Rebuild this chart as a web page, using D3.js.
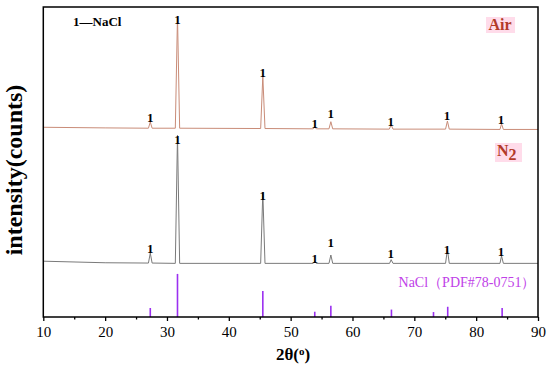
<!DOCTYPE html>
<html>
<head>
<meta charset="utf-8">
<script src="https://cdn.jsdelivr.net/npm/d3@7"></script>
<style>
  body { margin: 0; background: #fff; }
  svg text { font-family: "Liberation Serif", "Times New Roman", "DejaVu Serif", serif; }
</style>
</head>
<body>
<svg id="drawing_region"></svg>
<script>
// XRD patterns as [2theta, counts] points
const airPattern = [
    [10, 612], [20, 610], [27.0, 609], [27.3, 629], [27.6, 609],
    [31.35, 609], [31.7, 971], [32.05, 609],
    [45.15, 608], [45.5, 777], [45.85, 608],
    [53.65, 607], [53.9, 613], [54.15, 607],
    [56.2, 607], [56.5, 630], [56.8, 607],
    [65.95, 606], [66.25, 620], [66.55, 606],
    [75.05, 606], [75.35, 632], [75.65, 606],
    [83.85, 605], [84.1, 623], [84.4, 605],
    [90, 605]
];
const n2Pattern = [
    [10, 180], [20, 175], [27.0, 174], [27.3, 206], [27.6, 174],
    [31.35, 173], [31.7, 586], [32.05, 173],
    [45.15, 173], [45.5, 403], [45.85, 173],
    [53.65, 173], [53.9, 180], [54.15, 173],
    [56.2, 173], [56.5, 200], [56.8, 173],
    [66.0, 173], [66.25, 185], [66.55, 173],
    [75.05, 173], [75.35, 218], [75.65, 173],
    [83.85, 173], [84.1, 197], [84.4, 173],
    [90, 173]
];

// "1" markers (NaCl) above the peaks
const markerPos = [27.3, 31.7, 45.5, 53.9, 56.5, 66.2, 75.3, 84.0];
const airMarkers = [629, 945, 774, 610, 642, 616, 635, 623];
const n2Markers = [206, 558, 377, 174, 226, 190, 203, 197];

// reference card NaCl (PDF#78-0751)
const refPos = [27.3, 31.7, 45.5, 53.9, 56.5, 66.3, 73.1, 75.4, 84.2];
const refInt = [29, 139, 84, 17, 36, 24, 16, 33, 29];

const xTicks = [10, 20, 30, 40, 50, 60, 70, 80, 90];
const xMinorTicks = [15, 25, 35, 45, 55, 65, 75, 85];

const SERIF = '"Liberation Serif", "Times New Roman", "DejaVu Serif", serif';

var config = {
    width: 550,
    height: 368,
    margin: {top: 7, right: 12, bottom: 51, left: 43.3}
};

const svg = d3.select('#drawing_region')
    .attr('width', config.width)
    .attr('height', config.height);

const inner_width = config.width - config.margin.left - config.margin.right;
const inner_height = config.height - config.margin.top - config.margin.bottom;

const chart = svg.append('g')
    .attr('transform', `translate(${config.margin.left}, ${config.margin.top})`);

const xscale = d3.scaleLinear().domain([10, 90]).range([0, inner_width]);
const yscale = d3.scaleLinear().domain([0, 1000]).range([inner_height, 0]);

// pink highlight behind labels
const labelBg = [
    {x: 486, y: 17, w: 29, h: 16},
    {x: 495, y: 143, w: 27, h: 19}
];
svg.selectAll('rect.hl').data(labelBg).enter().append('rect')
    .attr('class', 'hl')
    .attr('x', d => d.x).attr('y', d => d.y)
    .attr('width', d => d.w).attr('height', d => d.h)
    .attr('fill', '#ffdcea');

const line = d3.line()
    .x(d => xscale(d[0]))
    .y(d => yscale(d[1]));

chart.append('path')
    .datum(airPattern)
    .attr('d', line)
    .attr('fill', 'none')
    .attr('stroke', '#c98c78')
    .attr('stroke-width', 1);

chart.append('path')
    .datum(n2Pattern)
    .attr('d', line)
    .attr('fill', 'none')
    .attr('stroke', '#7a7a7a')
    .attr('stroke-width', 1);

// reference sticks
chart.selectAll('line.ref')
    .data(refPos)
    .enter()
    .append('line')
    .attr('class', 'ref')
    .attr('x1', d => xscale(d))
    .attr('x2', d => xscale(d))
    .attr('y1', yscale(0))
    .attr('y2', (d, i) => yscale(refInt[i]))
    .attr('stroke', '#9b30f0')
    .attr('stroke-width', 1.6);

// peak markers
const drawMarkers = (values) => {
    chart.append('g').selectAll('text')
        .data(markerPos)
        .enter()
        .append('text')
        .attr('x', d => xscale(d))
        .attr('y', (d, i) => yscale(values[i]))
        .attr('text-anchor', 'middle')
        .attr('font-family', SERIF)
        .style('font-weight', 'bold')
        .style('font-size', '13px')
        .attr('fill', '#000')
        .text('1');
};
drawMarkers(airMarkers);
drawMarkers(n2Markers);

// axes
const xaxis = d3.axisBottom(xscale)
    .tickValues(xTicks)
    .tickSize(4)
    .tickSizeOuter(0)
    .tickFormat(d3.format('d'));

const xaxis_group = chart.append('g')
    .attr('transform', `translate(0, ${inner_height})`)
    .call(xaxis)
    .attr('font-family', SERIF);
xaxis_group.select('.domain').remove();
xaxis_group.selectAll('.tick line').attr('stroke-width', 1.3);
xaxis_group.selectAll('.tick text')
    .attr('dy', '0.85em')
    .style('font-size', '15px');

const xminor = chart.append('g')
    .attr('transform', `translate(0, ${inner_height})`)
    .call(d3.axisBottom(xscale).tickValues(xMinorTicks).tickSize(2.5).tickFormat(''));
xminor.select('.domain').remove();
xminor.selectAll('.tick line').attr('stroke-width', 1.3);

// frame
chart.append('rect')
    .attr('x', 0).attr('y', 0)
    .attr('width', inner_width).attr('height', inner_height)
    .attr('fill', 'none')
    .attr('stroke', '#000')
    .attr('stroke-width', 1.5);

// texts
svg.append('text')
    .attr('x', 73).attr('y', 26)
    .style('font-weight', 'bold')
    .style('font-size', '13px')
    .text('1—NaCl');

svg.append('text')
    .attr('x', 500).attr('y', 30)
    .attr('text-anchor', 'middle')
    .style('font-weight', 'bold')
    .style('font-size', '16px')
    .attr('fill', '#b23a28')
    .text('Air');

const n2Label = svg.append('text')
    .attr('x', 497).attr('y', 156)
    .style('font-weight', 'bold')
    .style('font-size', '16px')
    .attr('fill', '#b23a28');
n2Label.append('tspan').text('N');
n2Label.append('tspan').attr('dy', 4).text('2');

svg.append('text')
    .attr('x', 467).attr('y', 287)
    .attr('text-anchor', 'middle')
    .style('font-size', '14px')
    .attr('fill', '#c040e8')
    .text('NaCl（PDF#78-0751）');

const xlabel = svg.append('text')
    .attr('x', 276).attr('y', 360)
    .style('font-weight', 'bold')
    .style('font-size', '17px')
    .text('2θ(');
xlabel.append('tspan').attr('dy', -5).style('font-size', '11px').text('o');
xlabel.append('tspan').attr('dy', 5).text(')');

svg.append('text')
    .attr('transform', 'rotate(-90)')
    .attr('x', -170)
    .attr('y', 22)
    .attr('text-anchor', 'middle')
    .style('font-weight', 'bold')
    .style('font-size', '24px')
    .text('intensity(counts)');
</script>
</body>
</html>
